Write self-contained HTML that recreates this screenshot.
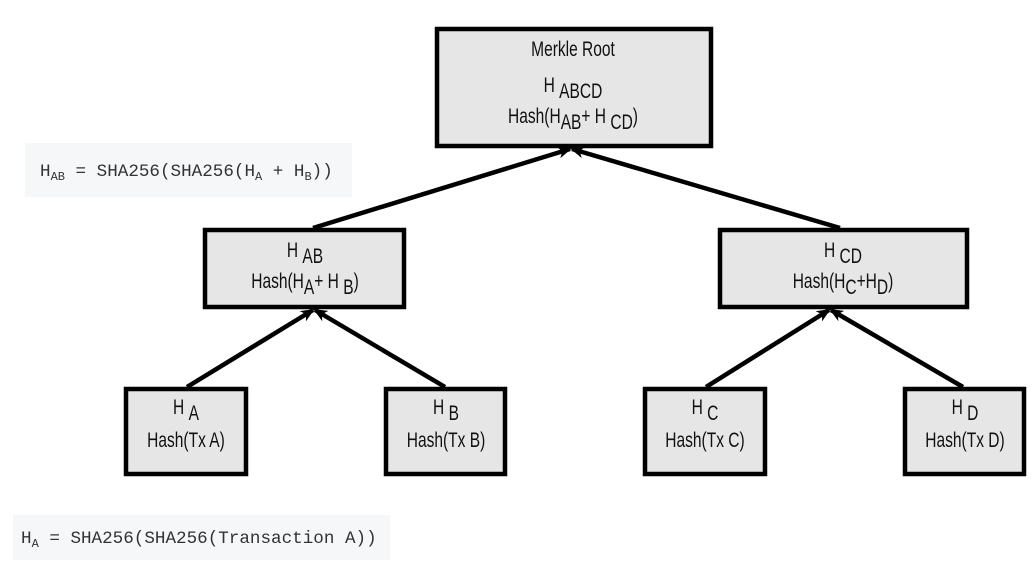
<!DOCTYPE html>
<html><head><meta charset="utf-8"><style>
body{margin:0;background:#fff;}
svg{display:block}
.t{font-family:"Liberation Sans",sans-serif;font-size:21px;fill:#111;}
.m{font-family:"Liberation Mono",monospace;font-size:17.6px;fill:#333;}
</style></head><body>
<svg width="1033" height="570" viewBox="0 0 1033 570" xmlns="http://www.w3.org/2000/svg">
<defs>
<marker id="ah" markerWidth="14" markerHeight="12" refX="12" refY="6" orient="auto" markerUnits="userSpaceOnUse"><path d="M0,0 L14,6 L0,12 L4,6z" fill="#000"/></marker></defs>
<rect x="25" y="143" width="327" height="54" fill="#f5f7f9"/>
<text class="m" x="40" y="176">H<tspan font-size="12" dy="4">AB</tspan><tspan dy="-4"> = SHA256(SHA256(H</tspan><tspan font-size="12" dy="4">A</tspan><tspan dy="-4"> + H</tspan><tspan font-size="12" dy="4">B</tspan><tspan dy="-4">))</tspan></text>
<rect x="13" y="515" width="377" height="45" fill="#f5f7f9"/>
<text class="m" x="21" y="543">H<tspan font-size="12" dy="4">A</tspan><tspan dy="-4"> = SHA256(SHA256(Transaction A))</tspan></text>
<g stroke="#000" stroke-width="4.5" fill="none">
<line x1="313" y1="228" x2="570" y2="149" marker-end="url(#ah)"/>
<line x1="840" y1="228" x2="572" y2="149" marker-end="url(#ah)"/>
<line x1="187" y1="387" x2="313" y2="310" marker-end="url(#ah)"/>
<line x1="445" y1="387" x2="315" y2="310" marker-end="url(#ah)"/>
<line x1="706" y1="387" x2="829" y2="310" marker-end="url(#ah)"/>
<line x1="963" y1="387" x2="831" y2="310" marker-end="url(#ah)"/>
</g>
<g fill="#e6e6e6" stroke="#000" stroke-width="4.5">
<rect x="437" y="29" width="274" height="117"/>
<rect x="205" y="230" width="199" height="77"/>
<rect x="720" y="230" width="247" height="77"/>
<rect x="126" y="389" width="120" height="85"/>
<rect x="386" y="389" width="119" height="85"/>
<rect x="645" y="389" width="120" height="85"/>
<rect x="905" y="389" width="119" height="85"/>
</g>
<g class="t" text-anchor="middle">
<g transform="translate(573,56) scale(0.74,1)"><text>Merkle Root</text></g>
<g transform="translate(573,92) scale(0.74,1)"><text>H <tspan dy="6">ABCD</tspan></text></g>
<g transform="translate(573,123) scale(0.74,1)"><text>Hash(H<tspan dy="6">AB</tspan><tspan dy="-6">+ H </tspan><tspan dy="6">CD</tspan><tspan dy="-6">)</tspan></text></g>
<g transform="translate(305,257) scale(0.74,1)"><text>H <tspan dy="6">AB</tspan></text></g>
<g transform="translate(305,288) scale(0.74,1)"><text>Hash(H<tspan dy="6">A</tspan><tspan dy="-6">+ H </tspan><tspan dy="6">B</tspan><tspan dy="-6">)</tspan></text></g>
<g transform="translate(843,257) scale(0.74,1)"><text>H <tspan dy="6">CD</tspan></text></g>
<g transform="translate(843,288) scale(0.74,1)"><text>Hash(H<tspan dy="6">C</tspan><tspan dy="-6">+H</tspan><tspan dy="6">D</tspan><tspan dy="-6">)</tspan></text></g>
<g transform="translate(186,414) scale(0.74,1)"><text>H <tspan dy="6">A</tspan></text></g>
<g transform="translate(186,447) scale(0.74,1)"><text>Hash(Tx A)</text></g>
<g transform="translate(446,414) scale(0.74,1)"><text>H <tspan dy="6">B</tspan></text></g>
<g transform="translate(446,447) scale(0.74,1)"><text>Hash(Tx B)</text></g>
<g transform="translate(705,414) scale(0.74,1)"><text>H <tspan dy="6">C</tspan></text></g>
<g transform="translate(705,447) scale(0.74,1)"><text>Hash(Tx C)</text></g>
<g transform="translate(965,414) scale(0.74,1)"><text>H <tspan dy="6">D</tspan></text></g>
<g transform="translate(965,447) scale(0.74,1)"><text>Hash(Tx D)</text></g>
</g>
</svg>
</body></html>
